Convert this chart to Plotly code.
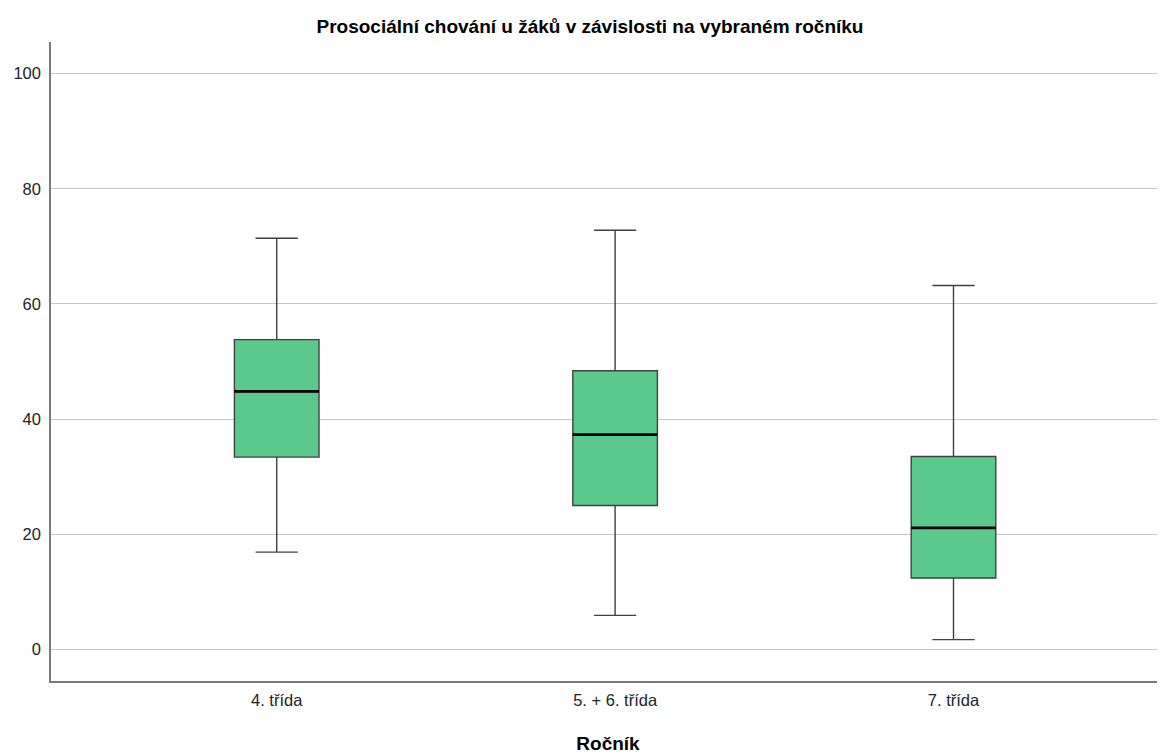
import plotly.graph_objects as go

categories = ["4. třída", "5. + 6. třída", "7. třída"]
positions = [0, 1, 2]
lower_whisker = [16.9, 5.9, 1.7]
q1 = [33.4, 25.0, 12.4]
median = [44.8, 37.3, 21.1]
q3 = [53.8, 48.4, 33.5]
upper_whisker = [71.4, 72.8, 63.2]
y_ticks = [0, 20, 40, 60, 80, 100]

box_w = 0.25
font = "Liberation Sans, Arial, sans-serif"
W, H = 1157, 746  # page body has an 8px margin

fig = go.Figure()
fig.add_trace(go.Box(
    x=positions, q1=q1, median=median, q3=q3,
    lowerfence=lower_whisker, upperfence=upper_whisker,
    width=box_w, whiskerwidth=0.5,
    fillcolor="#5bc98b",
    line=dict(color="#404040", width=1.4),
    boxpoints=False, hoverinfo="skip", showlegend=False,
))

mx, my = [], []
for p, m in zip(positions, median):
    mx += [p - box_w / 2, p + box_w / 2, None]
    my += [m, m, None]
fig.add_trace(go.Scatter(x=mx, y=my, mode="lines",
                         line=dict(color="black", width=2.8),
                         hoverinfo="skip", showlegend=False))

fig.update_layout(
    width=W, height=H,
    margin=dict(l=43, r=0, t=34, b=73, autoexpand=False),
    plot_bgcolor="white", paper_bgcolor="white",
    font=dict(family=font, size=16.5, color="#222"),
    title=dict(text="<b>Prosociální chování u žáků v závislosti na vybraném ročníku</b>",
               x=582 / W, xanchor="center", y=1 - 18 / H, yanchor="middle",
               font=dict(family=font, size=19, color="black")),
    xaxis=dict(range=[-0.667, 2.625], tickvals=positions, ticktext=categories,
               showgrid=False, zeroline=False, showline=True, automargin=False,
               linecolor="#7a7a7a", linewidth=1.5, ticks="",
               ticklabelstandoff=3,
               title=dict(text="<b>Ročník</b>", standoff=30,
                          font=dict(family=font, size=19, color="black"))),
    yaxis=dict(range=[-5.49, 105.5], tickvals=y_ticks, automargin=False,
               showgrid=True, gridcolor="#c8c8c8", gridwidth=1.3,
               zeroline=False, showline=True,
               linecolor="#7a7a7a", linewidth=1.5, ticks="",
               ticklabelstandoff=5),
)

fig.write_html("out.html")
